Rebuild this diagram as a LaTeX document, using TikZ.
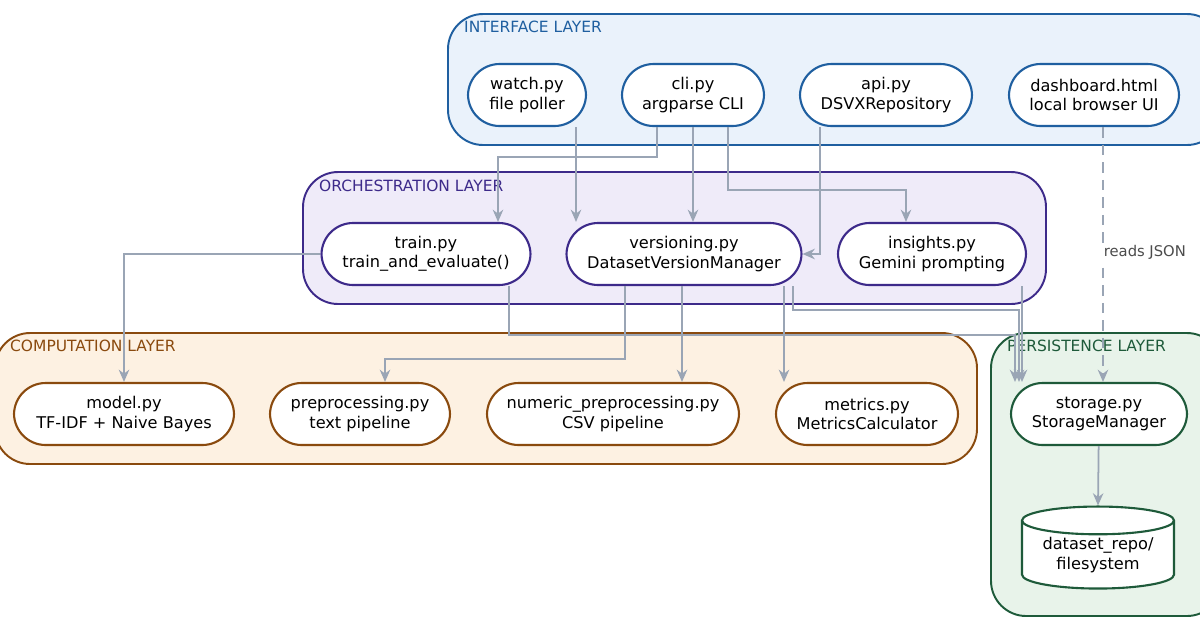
\documentclass[tikz,border=0pt]{standalone}
\usepackage{fontspec}
\setmainfont{DejaVu Sans}
\usetikzlibrary{arrows.meta,shapes.geometric}
\definecolor{ifline}{HTML}{1F5FA0}\definecolor{iffill}{HTML}{EAF2FB}
\definecolor{orline}{HTML}{3D2A8A}\definecolor{orfill}{HTML}{EFEBF9}
\definecolor{coline}{HTML}{8A4A0E}\definecolor{cofill}{HTML}{FDF1E2}
\definecolor{peline}{HTML}{1E5A3A}\definecolor{pefill}{HTML}{E8F3EA}
\definecolor{wire}{HTML}{9AA5B5}
\tikzset{
  layer/.style={rounded corners=20, line width=1.1pt},
  comp/.style={fill=white, rounded corners=18, line width=1.2pt, align=center,
    minimum height=62*0.02cm, font=\fontsize{9.2}{11}\selectfont, inner sep=0pt},
  title/.style={anchor=west, font=\fontsize{8.8}{10}\selectfont},
  link/.style={wire, line width=1pt, -{Stealth[length=7pt,width=6pt]}}
}
\begin{document}
\begin{tikzpicture}[x=0.02cm,y=-0.02cm]
\useasboundingbox (0,0) rectangle (1200,630);

% layers
\draw [layer, ifline, fill=iffill] (448,14) rectangle (1222,145);
\draw [layer, orline, fill=orfill] (303,172) rectangle (1046,304);
\draw [layer, coline, fill=cofill] (-5,333) rectangle (977,464);
\draw [layer, peline, fill=pefill] (991,333) rectangle (1222,616);

\node [title, ifline] at (458,27) {INTERFACE LAYER};
\node [title, orline] at (313,186) {ORCHESTRATION LAYER};
\node [title, coline] at (4,346) {COMPUTATION LAYER};
\node [title, peline] at (1001,346) {PERSISTENCE LAYER};

% interface
\node [comp, draw=ifline, minimum width=118*0.02cm] (watch) at (527,95) {watch.py\\file poller};
\node [comp, draw=ifline, minimum width=142*0.02cm] (cli) at (693,95) {cli.py\\argparse CLI};
\node [comp, draw=ifline, minimum width=172*0.02cm] (api) at (886,95) {api.py\\DSVXRepository};
\node [comp, draw=ifline, minimum width=170*0.02cm] (dash) at (1094,95) {dashboard.html\\local browser UI};

% orchestration
\node [comp, draw=orline, minimum width=209*0.02cm] (train) at (426,254) {train.py\\train\_and\_evaluate()};
\node [comp, draw=orline, minimum width=235*0.02cm] (vers) at (684,254) {versioning.py\\DatasetVersionManager};
\node [comp, draw=orline, minimum width=188*0.02cm] (ins) at (932,254) {insights.py\\Gemini prompting};

% computation
\node [comp, draw=coline, minimum width=220*0.02cm] (model) at (124,414) {model.py\\TF-IDF + Naive Bayes};
\node [comp, draw=coline, minimum width=180*0.02cm] (prep) at (360,414) {preprocessing.py\\text pipeline};
\node [comp, draw=coline, minimum width=252*0.02cm] (num) at (613,414) {numeric\_preprocessing.py\\CSV pipeline};
\node [comp, draw=coline, minimum width=182*0.02cm] (met) at (867,414) {metrics.py\\MetricsCalculator};

% persistence
\node [comp, draw=peline, minimum width=176*0.02cm] (store) at (1099,414) {storage.py\\StorageManager};
\node [draw=peline, fill=white, line width=1.2pt, cylinder, shape border rotate=90, aspect=0.25,
  minimum width=152*0.02cm, minimum height=82*0.02cm, align=center, inner sep=0pt,
  font=\fontsize{9.2}{11}\selectfont] (repo) at (1098,555) {dataset\_repo/\\filesystem};

% connectors
\draw [link] (cli.south -| 657,0) |- (498,157) -- (train.north -| 498,0);
\draw [link] (watch.south -| 576,0) -- (vers.north -| 576,0);
\draw [link] (cli.south -| 693,0) -- (vers.north -| 693,0);
\draw [link] (cli.south -| 728,0) |- (906,190) -- (ins.north -| 906,0);
\draw [link] (api.south -| 820,0) |- (vers.east);
\draw [link, dashed, dash pattern=on 6pt off 4pt] (dash.south -| 1103,0) -- (store.north -| 1103,0)
  node [pos=0.49, right=-1pt, black!70, font=\fontsize{8.4}{10}\selectfont, fill=white, inner sep=1pt] {reads JSON};
\draw [link] (train.west) -| (model.north);
\draw [link] (train.south -| 509,0) |- (1015,335) -- (store.north -| 1015,0);
\draw [link] (vers.south -| 625,0) |- (385,359) -- (prep.north -| 385,0);
\draw [link] (vers.south -| 682,0) -- (num.north -| 682,0);
\draw [link] (vers.south -| 784,0) -- (met.north -| 784,0);
\draw [link] (vers.south -| 793,0) |- (1019,310) -- (store.north -| 1019,0);
\draw [link] (ins.south -| 1022,0) -- (store.north -| 1022,0);
\draw [link] (store) -- (repo.north);
\end{tikzpicture}
\end{document}
